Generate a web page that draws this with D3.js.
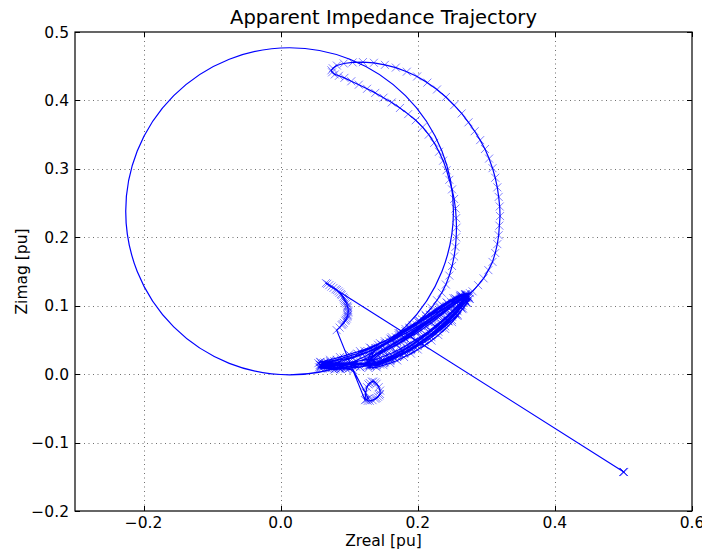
<!DOCTYPE html>
<html>
<head>
<meta charset="utf-8">
<script src="https://cdn.jsdelivr.net/npm/d3@7"></script>
<style>
    body { margin: 0; background: #fff; }
    text { font-family: "DejaVu Sans", sans-serif; fill: #000; }
    .title { font-size: 19.5px; }
    .axisLabel { font-size: 15.5px; }
    .tickLabel { font-size: 15.5px; }
</style>
</head>
<body>
<script>
//Axis ranges and tick labels
const xDomain = [-0.3, 0.6];
const yDomain = [-0.2, 0.5];
const xTicks = [-0.2, 0.0, 0.2, 0.4, 0.6];
const yTicks = [-0.2, -0.1, 0.0, 0.1, 0.2, 0.3, 0.4, 0.5];

//Mho circle (center, radius) in pu
const circleCenter = [0.013, 0.238];
const circleRadius = 0.239;

//Trajectory pieces, in time order
const preFault = [[0.5, -0.143], [0.5, -0.143], [0.501, -0.1432], [0.5, -0.1428]];

const faultCurve = [
    [0.066, 0.133], [0.068, 0.132], [0.071, 0.130], [0.074, 0.128], [0.077, 0.126],
    [0.08, 0.124], [0.082, 0.123], [0.084, 0.121], [0.086, 0.119], [0.088, 0.117],
    [0.089, 0.1155], [0.091, 0.113], [0.092, 0.111], [0.093, 0.109], [0.094, 0.107],
    [0.095, 0.105], [0.0963, 0.1034], [0.097, 0.100], [0.0975, 0.0985], [0.098, 0.097],
    [0.0986, 0.0936], [0.0985, 0.0915], [0.0983, 0.090], [0.098, 0.087], [0.0975, 0.0855],
    [0.097, 0.084], [0.0963, 0.0814], [0.095, 0.0795], [0.094, 0.078], [0.092, 0.075],
    [0.0905, 0.073], [0.089, 0.0716], [0.086, 0.068], [0.0817, 0.0643]
];

const loopPath = [
    [0.123, -0.038], [0.124, -0.027], [0.126, -0.019], [0.128, -0.015], [0.13, -0.013],
    [0.133, -0.011], [0.135, -0.011], [0.138, -0.012], [0.14, -0.014], [0.143, -0.019],
    [0.145, -0.024], [0.145, -0.029], [0.144, -0.031], [0.142, -0.033], [0.14, -0.035],
    [0.138, -0.036], [0.134, -0.038], [0.13, -0.039], [0.127, -0.039], [0.125, -0.037],
    [0.128, -0.0356]
];

const blob = [
    [0.106, 0.0058], [0.095, 0.008], [0.085, 0.009], [0.075, 0.011], [0.065, 0.012],
    [0.058, 0.013], [0.055, 0.016], [0.058, 0.018], [0.064, 0.017], [0.072, 0.015],
    [0.08, 0.013], [0.088, 0.011], [0.094, 0.010], [0.086, 0.012], [0.076, 0.013],
    [0.066, 0.014], [0.059, 0.012], [0.056, 0.010], [0.061, 0.009], [0.07, 0.01],
    [0.08, 0.008], [0.09, 0.009], [0.098, 0.011], [0.092, 0.013], [0.083, 0.015],
    [0.073, 0.017], [0.063, 0.015], [0.057, 0.0135], [0.062, 0.011], [0.069, 0.008],
    [0.078, 0.0065], [0.088, 0.0075], [0.1, 0.009], [0.11, 0.011], [0.104, 0.014],
    [0.095, 0.016], [0.085, 0.017]
];

const bandOut = [
    [0.1157, 0.0102], [0.13, 0.013], [0.1448, 0.0175], [0.16, 0.023], [0.174, 0.0292],
    [0.19, 0.037], [0.203, 0.0453], [0.218, 0.056], [0.232, 0.0673], [0.244, 0.078],
    [0.2542, 0.0892], [0.262, 0.099], [0.2688, 0.1082], [0.272, 0.114]
];

const outerArc = [
    [0.28, 0.121], [0.288, 0.13], [0.296, 0.14], [0.303, 0.152], [0.309, 0.164],
    [0.313, 0.177], [0.316, 0.19], [0.318, 0.203], [0.319, 0.217], [0.32, 0.231],
    [0.3195, 0.245], [0.318, 0.259], [0.316, 0.273], [0.313, 0.287], [0.309, 0.301],
    [0.304, 0.315], [0.298, 0.329], [0.291, 0.342], [0.283, 0.355], [0.274, 0.368],
    [0.264, 0.381], [0.253, 0.393], [0.241, 0.405], [0.228, 0.416], [0.214, 0.426],
    [0.199, 0.435], [0.184, 0.442], [0.168, 0.448], [0.152, 0.452], [0.136, 0.455],
    [0.12, 0.456], [0.105, 0.4555], [0.092, 0.454], [0.082, 0.451], [0.076, 0.447],
    [0.074, 0.444], [0.075, 0.441], [0.079, 0.438], [0.085, 0.436]
];

const innerArc = [
    [0.093, 0.433], [0.103, 0.428], [0.114, 0.423], [0.126, 0.417], [0.138, 0.411],
    [0.15, 0.404], [0.162, 0.397], [0.174, 0.389], [0.186, 0.38], [0.197, 0.371],
    [0.207, 0.361], [0.216, 0.35], [0.224, 0.338], [0.231, 0.325], [0.237, 0.312],
    [0.242, 0.298], [0.246, 0.284], [0.25, 0.27], [0.253, 0.256], [0.255, 0.242],
    [0.256, 0.228], [0.2565, 0.214], [0.256, 0.2], [0.255, 0.186], [0.253, 0.172],
    [0.25, 0.158], [0.246, 0.144], [0.241, 0.131], [0.235, 0.119], [0.228, 0.108],
    [0.22, 0.097], [0.211, 0.087], [0.2, 0.077], [0.188, 0.067], [0.175, 0.058],
    [0.162, 0.05], [0.148, 0.042], [0.134, 0.035], [0.12, 0.029], [0.106, 0.024],
    [0.092, 0.02], [0.078, 0.016], [0.065, 0.013]
];

const swing1 = [
    [0.058, 0.0088], [0.072, 0.008], [0.0865, 0.0073], [0.1, 0.0085], [0.1157, 0.0102],
    [0.13, 0.014], [0.1448, 0.0175], [0.16, 0.023], [0.174, 0.0292], [0.19, 0.037],
    [0.203, 0.0453], [0.218, 0.056], [0.232, 0.0673], [0.244, 0.078], [0.2542, 0.0892],
    [0.262, 0.099], [0.2688, 0.1082], [0.276, 0.1184],
    [0.2688, 0.117], [0.262, 0.114], [0.2542, 0.1111], [0.243, 0.104], [0.232, 0.0965],
    [0.218, 0.087], [0.203, 0.0775], [0.188, 0.068], [0.174, 0.06], [0.16, 0.052],
    [0.1448, 0.0453], [0.13, 0.039], [0.1157, 0.0336], [0.1, 0.029], [0.0865, 0.0249],
    [0.072, 0.021], [0.0578, 0.0175]
];

const swing2 = [
    [0.131, 0.014], [0.14, 0.016], [0.15, 0.02], [0.16, 0.025], [0.17, 0.03],
    [0.18, 0.035], [0.19, 0.041], [0.2, 0.048], [0.21, 0.055], [0.22, 0.063],
    [0.23, 0.071], [0.24, 0.08], [0.248, 0.088], [0.256, 0.096], [0.262, 0.103],
    [0.268, 0.109], [0.272, 0.114],
    [0.266, 0.113], [0.258, 0.108], [0.25, 0.103], [0.24, 0.096], [0.23, 0.09],
    [0.22, 0.082], [0.21, 0.075], [0.2, 0.068], [0.19, 0.061], [0.18, 0.054],
    [0.17, 0.048], [0.16, 0.042], [0.15, 0.036], [0.142, 0.031], [0.135, 0.027],
    [0.128, 0.018]
];

const swing3 = [
    [0.13, 0.012], [0.14, 0.015], [0.15, 0.018], [0.16, 0.022], [0.17, 0.027],
    [0.18, 0.032], [0.19, 0.038], [0.2, 0.044], [0.21, 0.051], [0.22, 0.058],
    [0.23, 0.066], [0.24, 0.075], [0.25, 0.084], [0.258, 0.092], [0.265, 0.1],
    [0.27, 0.106], [0.274, 0.112],
    [0.268, 0.111], [0.262, 0.108], [0.254, 0.102], [0.245, 0.097], [0.235, 0.09],
    [0.225, 0.083], [0.215, 0.076], [0.205, 0.07], [0.195, 0.063], [0.185, 0.057],
    [0.175, 0.051], [0.165, 0.045], [0.155, 0.039], [0.145, 0.033], [0.137, 0.028],
    [0.13, 0.022]
];

const swing4 = [
    [0.058, 0.01], [0.066, 0.0095], [0.075, 0.009], [0.085, 0.0095], [0.095, 0.01],
    [0.105, 0.012], [0.115, 0.014], [0.125, 0.017], [0.135, 0.02], [0.145, 0.024],
    [0.155, 0.028], [0.165, 0.032], [0.175, 0.037], [0.185, 0.043], [0.195, 0.049],
    [0.205, 0.055], [0.215, 0.062], [0.225, 0.07], [0.235, 0.078], [0.244, 0.086],
    [0.252, 0.094], [0.259, 0.101], [0.265, 0.107], [0.27, 0.112], [0.273, 0.116],
    [0.264, 0.115], [0.256, 0.11], [0.248, 0.106], [0.238, 0.099], [0.228, 0.093],
    [0.218, 0.086], [0.208, 0.079], [0.198, 0.072], [0.188, 0.066], [0.178, 0.06],
    [0.168, 0.054], [0.158, 0.048], [0.148, 0.043], [0.138, 0.038], [0.128, 0.033],
    [0.118, 0.03], [0.108, 0.026], [0.098, 0.023], [0.088, 0.021], [0.078, 0.019],
    [0.068, 0.017], [0.06, 0.015]
];

const swing5 = [
    [0.14, 0.013], [0.15, 0.016], [0.16, 0.02], [0.17, 0.025], [0.18, 0.03],
    [0.19, 0.035], [0.2, 0.041], [0.21, 0.047], [0.22, 0.054], [0.23, 0.062],
    [0.24, 0.07], [0.25, 0.079], [0.258, 0.087], [0.266, 0.096], [0.272, 0.104],
    [0.276, 0.11], [0.27, 0.113], [0.262, 0.11], [0.252, 0.104], [0.242, 0.099],
    [0.232, 0.093], [0.222, 0.087], [0.212, 0.081], [0.202, 0.075], [0.192, 0.069],
    [0.182, 0.063], [0.172, 0.057], [0.162, 0.051], [0.152, 0.045], [0.142, 0.038],
    [0.134, 0.031], [0.133, 0.02], [0.14, 0.017]
];

const swing6 = [
    [0.128, 0.009], [0.14, 0.01], [0.15, 0.013], [0.16, 0.016], [0.17, 0.02],
    [0.18, 0.025], [0.19, 0.03], [0.2, 0.036], [0.21, 0.042], [0.22, 0.049],
    [0.23, 0.057], [0.24, 0.066], [0.25, 0.076], [0.258, 0.085], [0.265, 0.095],
    [0.271, 0.104], [0.275, 0.11],
    [0.27, 0.116], [0.262, 0.113], [0.254, 0.108], [0.245, 0.1], [0.235, 0.093],
    [0.225, 0.086], [0.215, 0.079], [0.205, 0.073], [0.195, 0.067], [0.185, 0.061],
    [0.175, 0.056], [0.165, 0.05], [0.155, 0.045], [0.145, 0.039], [0.137, 0.034],
    [0.13, 0.028], [0.127, 0.02]
];

const swing7 = [
    [0.127, 0.012], [0.135, 0.013], [0.145, 0.016], [0.155, 0.02], [0.165, 0.024],
    [0.175, 0.029], [0.185, 0.034], [0.195, 0.04], [0.205, 0.046], [0.215, 0.053],
    [0.225, 0.06], [0.235, 0.068], [0.245, 0.077], [0.255, 0.087], [0.263, 0.097],
    [0.27, 0.106], [0.274, 0.113],
    [0.267, 0.112], [0.26, 0.108], [0.25, 0.1], [0.24, 0.093], [0.23, 0.086],
    [0.22, 0.079], [0.21, 0.072], [0.2, 0.065], [0.19, 0.059], [0.18, 0.053],
    [0.17, 0.047], [0.16, 0.041], [0.15, 0.035], [0.14, 0.029], [0.133, 0.024],
    [0.129, 0.016]
];

const swing8 = [
    [0.06, 0.013], [0.07, 0.012], [0.08, 0.012], [0.09, 0.013], [0.1, 0.015],
    [0.11, 0.018], [0.12, 0.021], [0.13, 0.025], [0.14, 0.029], [0.15, 0.033],
    [0.16, 0.038], [0.17, 0.043], [0.18, 0.049], [0.19, 0.055], [0.2, 0.061],
    [0.21, 0.068], [0.22, 0.075], [0.23, 0.083], [0.24, 0.091], [0.25, 0.099],
    [0.258, 0.106], [0.265, 0.112], [0.27, 0.117],
    [0.262, 0.116], [0.252, 0.111], [0.242, 0.105], [0.232, 0.099], [0.222, 0.092],
    [0.212, 0.085], [0.202, 0.078], [0.192, 0.072], [0.182, 0.066], [0.172, 0.06],
    [0.162, 0.054], [0.152, 0.048], [0.142, 0.043], [0.132, 0.038], [0.122, 0.034],
    [0.112, 0.03], [0.102, 0.027], [0.092, 0.024], [0.082, 0.021], [0.072, 0.019],
    [0.062, 0.016]
];

const swing9 = [
    [0.135, 0.016], [0.142, 0.018], [0.149, 0.021], [0.156, 0.024], [0.163, 0.027],
    [0.17, 0.031], [0.177, 0.035], [0.184, 0.039], [0.191, 0.043], [0.198, 0.048],
    [0.205, 0.053], [0.212, 0.058], [0.219, 0.063], [0.226, 0.069], [0.233, 0.075],
    [0.24, 0.081], [0.247, 0.087], [0.254, 0.094], [0.26, 0.1], [0.266, 0.106],
    [0.271, 0.111], [0.266, 0.11], [0.259, 0.106], [0.252, 0.101], [0.245, 0.096],
    [0.238, 0.091], [0.231, 0.086], [0.224, 0.081], [0.217, 0.076], [0.21, 0.071],
    [0.203, 0.066], [0.196, 0.061], [0.189, 0.056], [0.182, 0.052], [0.175, 0.047],
    [0.168, 0.043], [0.161, 0.039], [0.154, 0.035], [0.147, 0.031], [0.14, 0.026],
    [0.135, 0.021]
];

const swing10 = [
    [0.138, 0.012], [0.145, 0.014], [0.152, 0.017], [0.159, 0.02], [0.166, 0.023],
    [0.173, 0.027], [0.18, 0.031], [0.187, 0.035], [0.194, 0.04], [0.201, 0.045],
    [0.208, 0.05], [0.215, 0.055], [0.222, 0.061], [0.229, 0.067], [0.236, 0.073],
    [0.243, 0.08], [0.25, 0.087], [0.257, 0.094], [0.263, 0.101], [0.268, 0.107],
    [0.272, 0.112], [0.27, 0.115], [0.265, 0.113]
];

const trajectory = [].concat(preFault, faultCurve, loopPath, blob, bandOut,
    outerArc, innerArc, swing1, swing2, swing3, swing4, swing5, swing6, swing7,
    swing8, swing9, swing10, [[0.27, 0.115]]);

//Setup chart
const width = 702;
const height = 551;
const margin = {
    top: 32,
    right: 10,
    bottom: 40,
    left: 75
};

const svg = d3.select("body").append("svg")
    .attr("width", width)
    .attr("height", height);

//Scales
let x = d3.scaleLinear()
    .domain(xDomain)
    .range([margin.left, width - margin.right]);

let y = d3.scaleLinear()
    .domain(yDomain)
    .range([height - margin.bottom, margin.top]);

const plotW = x(xDomain[1]) - x(xDomain[0]);
const plotH = y(yDomain[0]) - y(yDomain[1]);

svg.append('defs').append('clipPath')
    .attr('id', 'clip')
    .append('rect')
    .attr('x', x(xDomain[0]))
    .attr('y', y(yDomain[1]))
    .attr('width', plotW)
    .attr('height', plotH);

//Grid lines (dotted)
let grid = svg.append('g').attr('class', 'grid');

grid.selectAll('line.vgrid')
    .data(xTicks.filter(d => d > xDomain[0] && d < xDomain[1]))
    .enter()
    .append('line')
    .attr('x1', d => Math.round(x(d)) + 0.5)
    .attr('x2', d => Math.round(x(d)) + 0.5)
    .attr('y1', y(yDomain[1]))
    .attr('y2', y(yDomain[0]))
    .style('stroke', '#000')
    .style('stroke-width', 0.8)
    .style('stroke-dasharray', '1,3.5')
    .style('opacity', 0.7);

grid.selectAll('line.hgrid')
    .data(yTicks.filter(d => d > yDomain[0] && d < yDomain[1]))
    .enter()
    .append('line')
    .attr('y1', d => Math.round(y(d)) + 0.5)
    .attr('y2', d => Math.round(y(d)) + 0.5)
    .attr('x1', x(xDomain[0]))
    .attr('x2', x(xDomain[1]))
    .style('stroke', '#000')
    .style('stroke-width', 0.8)
    .style('stroke-dasharray', '1,3.5')
    .style('opacity', 0.7);

let plot = svg.append('g').attr('clip-path', 'url(#clip)');

//Mho circle
plot.append('ellipse')
    .attr('cx', x(circleCenter[0]))
    .attr('cy', y(circleCenter[1]))
    .attr('rx', x(circleRadius) - x(0))
    .attr('ry', y(0) - y(circleRadius))
    .style('fill', 'none')
    .style('stroke', '#0000ff')
    .style('stroke-width', 1.2);

//Trajectory line
const line = d3.line()
    .x(d => x(d[0]))
    .y(d => y(d[1]));

plot.append('path')
    .datum(trajectory)
    .attr('d', line)
    .style('fill', 'none')
    .style('stroke', '#0000ff')
    .style('stroke-width', 1.2)
    .style('stroke-linejoin', 'round');

//x markers
const m = 4;
plot.selectAll('path.marker')
    .data(trajectory)
    .enter()
    .append('path')
    .attr('class', 'marker')
    .attr('d', d => {
        let cx = x(d[0]), cy = y(d[1]);
        return `M${cx-m},${cy-m}L${cx+m},${cy+m}M${cx-m},${cy+m}L${cx+m},${cy-m}`;
    })
    .style('fill', 'none')
    .style('stroke', '#0000ff')
    .style('stroke-width', 1)
    .style('opacity', 0.5);

//Frame
svg.append('rect')
    .attr('x', x(xDomain[0]))
    .attr('y', y(yDomain[1]))
    .attr('width', plotW)
    .attr('height', plotH)
    .style('fill', 'none')
    .style('stroke', '#000')
    .style('stroke-width', 1.2);

//Ticks, inside on all four sides
const tickLen = 5;
let ticks = svg.append('g').attr('class', 'ticks')
    .style('stroke', '#000').style('stroke-width', 1);

xTicks.forEach(t => {
    let px = Math.round(x(t)) + 0.5;
    ticks.append('line').attr('x1', px).attr('x2', px)
        .attr('y1', y(yDomain[0])).attr('y2', y(yDomain[0]) - tickLen);
    ticks.append('line').attr('x1', px).attr('x2', px)
        .attr('y1', y(yDomain[1])).attr('y2', y(yDomain[1]) + tickLen);
});

yTicks.forEach(t => {
    let py = Math.round(y(t)) + 0.5;
    ticks.append('line').attr('y1', py).attr('y2', py)
        .attr('x1', x(xDomain[0])).attr('x2', x(xDomain[0]) + tickLen);
    ticks.append('line').attr('y1', py).attr('y2', py)
        .attr('x1', x(xDomain[1])).attr('x2', x(xDomain[1]) - tickLen);
});

//Tick labels
const fmt = d => d3.format('.1f')(d).replace('-', '\u2212');

svg.selectAll('text.xTick')
    .data(xTicks)
    .enter()
    .append('text')
    .attr('class', 'tickLabel')
    .attr('x', d => x(d))
    .attr('y', y(yDomain[0]) + 17)
    .style('text-anchor', 'middle')
    .text(fmt);

svg.selectAll('text.yTick')
    .data(yTicks)
    .enter()
    .append('text')
    .attr('class', 'tickLabel')
    .attr('x', x(xDomain[0]) - 6)
    .attr('y', d => y(d) + 5.5)
    .style('text-anchor', 'end')
    .text(fmt);

//Title and axis labels
svg.append('text')
    .attr('class', 'title')
    .attr('x', (x(xDomain[0]) + x(xDomain[1])) / 2)
    .attr('y', 24)
    .style('text-anchor', 'middle')
    .text('Apparent Impedance Trajectory');

svg.append('text')
    .attr('class', 'axisLabel')
    .attr('x', (x(xDomain[0]) + x(xDomain[1])) / 2)
    .attr('y', 546)
    .style('text-anchor', 'middle')
    .text('Zreal [pu]');

svg.append('text')
    .attr('class', 'axisLabel')
    .attr('transform', `translate(27, ${(y(yDomain[0]) + y(yDomain[1])) / 2}) rotate(-90)`)
    .style('text-anchor', 'middle')
    .text('Zimag [pu]');
</script>
</body>
</html>
